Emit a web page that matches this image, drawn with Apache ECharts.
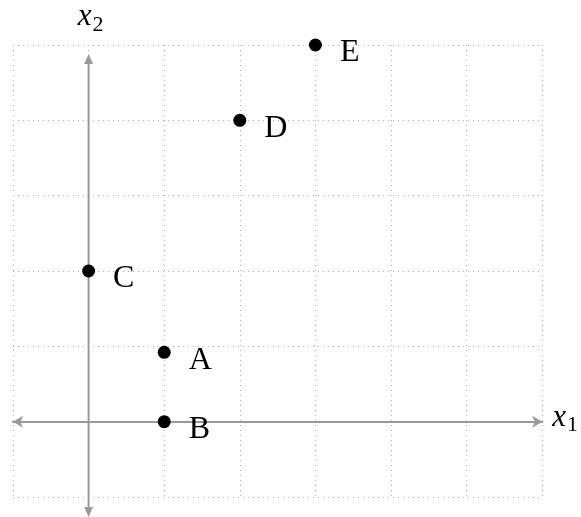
<!DOCTYPE html>
<html>
<head>
<meta charset="utf-8">
<script src="https://cdn.jsdelivr.net/npm/echarts@6/dist/echarts.min.js"></script>
<style>
  html, body { margin: 0; padding: 0; background: #fff; }
  #main { width: 581px; height: 517px; }
</style>
</head>
<body>
<div id="main"></div>
<script>
  // points
  var pointNames = ['A', 'B', 'C', 'D', 'E'];
  var pointX = [1, 1, 0, 2, 3];
  var pointY = [0.92, 0, 2, 4, 5];
  // grid range
  var xRange = [-1, 6];
  var yRange = [-1, 5];
  // vertical axis arrow ends (it runs past the grid)
  var yAxisEnds = [-1.265, 4.88];

  var serif = '"Liberation Serif", "DejaVu Serif", serif';
  var axisGray = '#9a9a9a';
  var nameRich = {
    i: { fontFamily: serif, fontStyle: 'italic', fontSize: 31, color: '#000' },
    s: { fontFamily: serif, fontSize: 22, color: '#000', padding: [16, 0, 0, 1] }
  };

  var myChart = echarts.init(document.getElementById('main'));

  // vertical axis drawn as a custom mark so it can run past the grid
  function renderYAxis(params, api) {
    var p0 = api.coord([0, yAxisEnds[0]]);
    var p1 = api.coord([0, yAxisEnds[1]]);
    var style = { fill: axisGray };
    return {
      type: 'group',
      children: [
        { type: 'line', shape: { x1: p0[0], y1: p0[1] - 8, x2: p1[0], y2: p1[1] + 8 },
          style: { stroke: axisGray, lineWidth: 2 } },
        { type: 'polygon', shape: { points: [[p1[0], p1[1]], [p1[0] - 4.5, p1[1] + 10], [p1[0] + 4.5, p1[1] + 10]] }, style: style },
        { type: 'polygon', shape: { points: [[p0[0], p0[1]], [p0[0] - 4.5, p0[1] - 10], [p0[0] + 4.5, p0[1] - 10]] }, style: style },
        { type: 'text', x: p1[0] + 2, y: p1[1] - 18,
          style: { text: '{i|x}{s|2}', rich: nameRich, align: 'center', verticalAlign: 'bottom' } }
      ]
    };
  }

  var option = {
    animation: false,
    grid: { left: 13, right: 37, top: 45, bottom: 20 },
    xAxis: {
      type: 'value',
      min: xRange[0],
      max: xRange[1],
      interval: 1,
      name: '{i|x}{s|1}',
      nameLocation: 'end',
      nameGap: 10,
      nameTextStyle: { rich: nameRich, padding: [0, 0, 8, 0] },
      axisLine: {
        show: true,
        onZero: true,
        symbol: ['arrow', 'arrow'],
        symbolSize: [9, 10],
        lineStyle: { color: axisGray, width: 2 }
      },
      axisTick: { show: false },
      axisLabel: { show: false },
      splitLine: { show: true, lineStyle: { type: [1, 4], color: '#aaaaaa', width: 1 } }
    },
    yAxis: {
      type: 'value',
      min: yRange[0],
      max: yRange[1],
      interval: 1,
      axisLine: { show: false },
      axisTick: { show: false },
      axisLabel: { show: false },
      splitLine: { show: true, lineStyle: { type: [1, 4], color: '#aaaaaa', width: 1 } }
    },
    series: [{
      type: 'custom',
      clip: false,
      silent: true,
      z: 1,
      renderItem: renderYAxis,
      data: [[0, 0]]
    }, {
      type: 'scatter',
      clip: false,
      z: 3,
      symbolSize: 13,
      itemStyle: { color: '#000', opacity: 1 },
      data: pointNames.map(function (n, i) {
        return { name: n, value: [pointX[i], pointY[i]] };
      }),
      label: {
        show: true,
        position: 'right',
        distance: 18,
        offset: [0, 8],
        formatter: '{b}',
        fontFamily: serif,
        fontSize: 32,
        color: '#000'
      }
    }]
  };

  myChart.setOption(option);
</script>
</body>
</html>
